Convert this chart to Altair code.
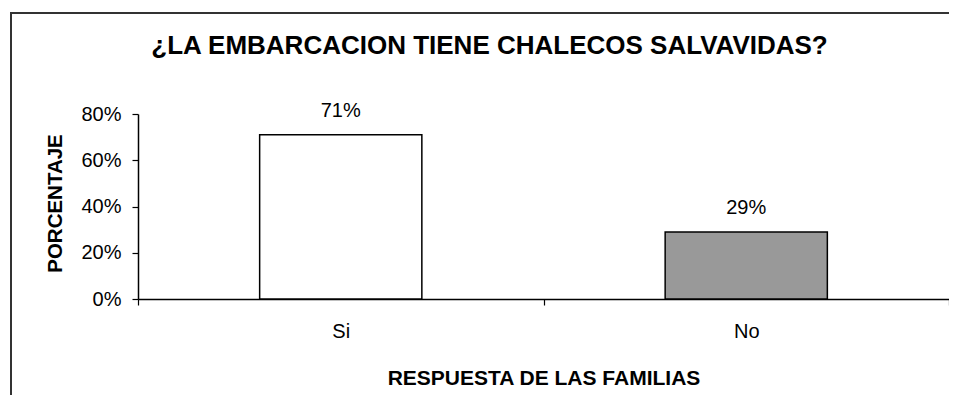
import altair as alt
import pandas as pd

categories = ["Si", "No"]
values = [0.71, 0.29]
bar_fills = ["#ffffff", "#999999"]
y_ticks = [0, 0.2, 0.4, 0.6, 0.8]

df = pd.DataFrame({"resp": categories, "pct": values})

FONT = "Liberation Sans"

base = alt.Chart(df)

bars = base.mark_bar(
    stroke="#000000", strokeWidth=1.5, width=alt.RelativeBandSize(0.4)
).encode(
    x=alt.X(
        "resp:N",
        sort=categories,
        scale=alt.Scale(paddingInner=0, paddingOuter=0),
        axis=alt.Axis(
            title="RESPUESTA DE LAS FAMILIAS",
            labelAngle=0,
            tickBand="extent",
            tickSize=6,
            labelPadding=16,
            titleX=405.5,
            titleY=85.5,
            titleFontSize=21,
            titleBaseline="alphabetic",
        ),
    ),
    y=alt.Y(
        "pct:Q",
        scale=alt.Scale(domain=[0, 0.8]),
        axis=alt.Axis(
            title="PORCENTAJE",
            values=y_ticks,
            format=".0%",
            tickSize=6,
            labelPadding=11,
            grid=False,
            titleAngle=-90,
            titleX=-77,
            titleY=89,
            titleAlign="center",
            titleFontSize=20.5,
            titleBaseline="alphabetic",
        ),
    ),
    color=alt.Color(
        "resp:N",
        scale=alt.Scale(domain=categories, range=bar_fills),
        legend=None,
    ),
)

labels = base.mark_text(
    baseline="alphabetic", dy=-18, fontSize=20, font=FONT, color="#000000"
).encode(
    x=alt.X("resp:N", sort=categories),
    y=alt.Y("pct:Q"),
    text=alt.Text("pct:Q", format=".0%"),
)

frame = alt.Chart(alt.Data(values=[{}])).mark_rect(
    filled=False, stroke="#333333", strokeWidth=2
).encode(
    x=alt.value(-127),
    x2=alt.value(840),
    y=alt.value(-101),
    y2=alt.value(320),
)

chart = (
    alt.layer(frame, bars, labels)
    .properties(
        width=811,
        height=185,
        autosize=alt.AutoSizeParams(type="none"),
        padding={"left": 130, "top": 106, "right": 0, "bottom": 96},
        title=alt.TitleParams(
            "¿LA EMBARCACION TIENE CHALECOS SALVAVIDAS?",
            anchor="middle",
            frame="group",
            dx=-54,
            dy=68,
            offset=0,
            fontSize=26,
            font=FONT,
            fontWeight="bold",
            color="#000000",
            baseline="alphabetic",
        ),
    )
    .configure_view(stroke=None)
    .configure_axis(
        domainColor="#000000",
        tickColor="#000000",
        domainWidth=1.5,
        tickWidth=1.2,
        labelFont=FONT,
        labelFontSize=20,
        labelColor="#000000",
        titleFont=FONT,
        titleFontSize=20,
        titleFontWeight="bold",
        titleColor="#000000",
    )
)

chart.save("out.html", embed_options={"renderer": "svg", "actions": False})
